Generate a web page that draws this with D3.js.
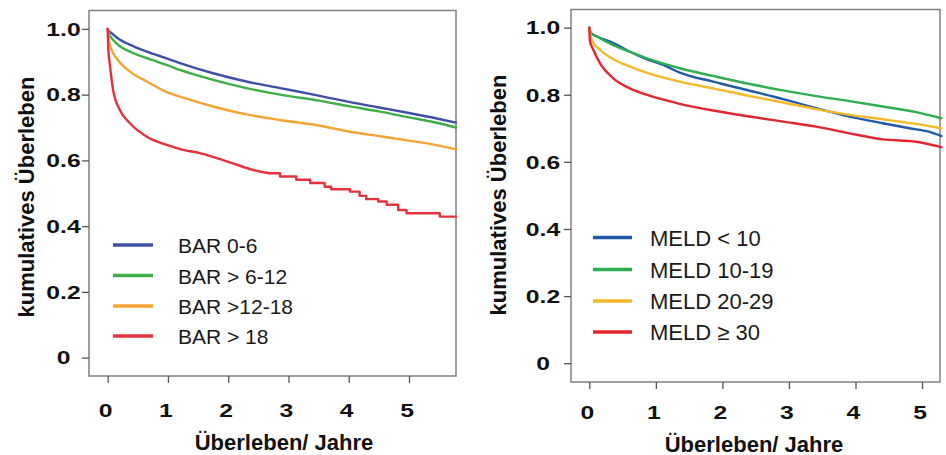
<!DOCTYPE html>
<html><head><meta charset="utf-8">
<script src="https://cdn.jsdelivr.net/npm/d3@7"></script>
<style>
html,body{margin:0;padding:0;background:#fff;}
svg{display:block;font-family:"Liberation Sans",Arial,sans-serif;}
</style></head>
<body>
<svg id="chart" width="946" height="455"></svg>
<script>
// ---------- data ----------
const xTicks = [0, 1, 2, 3, 4, 5];
const yTicks = [0, 0.2, 0.4, 0.6, 0.8, 1.0];
const yTickLabels = ["0", "0.2", "0.4", "0.6", "0.8", "1.0"];
const xTitle = "Überleben/ Jahre";
const yTitle = "kumulatives Überleben";

// left panel: BAR score
const barNames = ["BAR 0-6", "BAR > 6-12", "BAR >12-18", "BAR > 18"];
const barColors = ["#3f4fa6", "#3fae48", "#f5a434", "#e5323c"];
const bar06T = [0, 0.02, 0.066, 0.15, 0.43, 0.65, 1, 1.2, 1.75, 2.3, 2.86, 3.5, 4, 4.5, 5, 5.5, 5.78];
const bar06V = [1, 0.993, 0.987, 0.974, 0.947, 0.931, 0.909, 0.896, 0.865, 0.84, 0.82, 0.797, 0.778, 0.761, 0.744, 0.726, 0.715];
const bar612T = [0, 0.02, 0.066, 0.15, 0.43, 0.65, 1, 1.2, 1.75, 2.3, 2.86, 3.5, 4, 4.5, 5, 5.5, 5.78];
const bar612V = [1, 0.985, 0.972, 0.955, 0.926, 0.911, 0.889, 0.875, 0.845, 0.82, 0.80, 0.782, 0.765, 0.749, 0.731, 0.713, 0.70];
const bar1218T = [0, 0.02, 0.066, 0.15, 0.37, 0.65, 1, 1.2, 1.75, 2.3, 2.86, 3.5, 4, 4.5, 5, 5.5, 5.78];
const bar1218V = [1, 0.965, 0.936, 0.91, 0.87, 0.84, 0.806, 0.794, 0.764, 0.74, 0.723, 0.706, 0.688, 0.674, 0.66, 0.645, 0.634];
const bar18T = [0, 0.01, 0.04, 0.09, 0.2, 0.37, 0.65, 0.98, 1.25, 1.53, 1.81, 2.08, 2.41, 2.69, 2.86, 2.86, 3.13, 3.13, 3.36, 3.36, 3.6, 3.6, 3.71, 3.71, 4.02, 4.02, 4.18, 4.18, 4.29, 4.29, 4.49, 4.49, 4.63, 4.63, 4.82, 4.82, 4.96, 4.96, 5.51, 5.51, 5.78];
const bar18V = [1, 0.94, 0.885, 0.814, 0.754, 0.713, 0.672, 0.647, 0.632, 0.622, 0.607, 0.591, 0.571, 0.561, 0.561, 0.551, 0.551, 0.541, 0.541, 0.531, 0.531, 0.52, 0.52, 0.512, 0.512, 0.505, 0.505, 0.492, 0.492, 0.482, 0.482, 0.475, 0.475, 0.465, 0.465, 0.449, 0.449, 0.439, 0.439, 0.429, 0.429];

// right panel: MELD score
const meldNames = ["MELD < 10", "MELD 10-19", "MELD 20-29", "MELD \u2265 30"];
const meldColors = ["#1f5ba8", "#2eae4e", "#f6b826", "#e3262e"];
const meld10T = [0, 0.02, 0.1, 0.36, 0.61, 0.86, 1.11, 1.36, 1.86, 2.41, 2.91, 3.41, 3.91, 4.41, 4.81, 5.1, 5.29];
const meld10V = [1, 0.985, 0.975, 0.954, 0.928, 0.906, 0.889, 0.866, 0.839, 0.812, 0.787, 0.760, 0.735, 0.715, 0.70, 0.69, 0.677];
const meld1019T = [0, 0.02, 0.1, 0.36, 0.61, 0.86, 1.36, 1.86, 2.41, 2.91, 3.41, 3.91, 4.41, 4.91, 5.29];
const meld1019V = [1, 0.985, 0.975, 0.948, 0.928, 0.909, 0.879, 0.856, 0.832, 0.813, 0.796, 0.781, 0.765, 0.748, 0.730];
const meld2029T = [0, 0.02, 0.035, 0.16, 0.36, 0.61, 0.86, 1.36, 1.86, 2.41, 2.91, 3.41, 3.91, 4.41, 4.91, 5.29];
const meld2029V = [1, 0.975, 0.963, 0.934, 0.906, 0.884, 0.866, 0.839, 0.819, 0.796, 0.777, 0.757, 0.74, 0.727, 0.713, 0.70];
const meld30T = [0, 0.01, 0.06, 0.16, 0.36, 0.61, 0.86, 1.36, 1.86, 2.41, 2.91, 3.41, 3.91, 4.41, 4.91, 5.29];
const meld30V = [1, 0.96, 0.934, 0.894, 0.849, 0.819, 0.80, 0.773, 0.753, 0.735, 0.720, 0.705, 0.685, 0.667, 0.660, 0.644];

// ---------- layout ----------
// each series: [times, values, index up to which the curve is drawn smooth]
const panels = [
  {
    box: {l: 89, r: 456, t: 10.5, b: 376},
    xDom: [-0.31, 5.78], yDom: [-0.056, 1.056],
    names: barNames, colors: barColors,
    series: [[bar06T, bar06V], [bar612T, bar612V], [bar1218T, bar1218V], [bar18T, bar18V, 13]],
    tickLabelX: 63.5, yTitleX: 33.5, yTitleY: 197, xTitleX: 284, xTitleY: 449.5, xTickY: 417,
    leg: {x1: 113, x2: 153, ys: [245, 275.5, 306, 336], tx: 178, dy: 8, fs: 21}
  },
  {
    box: {l: 571, r: 940, t: 9.5, b: 382},
    xDom: [-0.275, 5.27], yDom: [-0.056, 1.054],
    names: meldNames, colors: meldColors,
    series: [[meld10T, meld10V], [meld1019T, meld1019V], [meld2029T, meld2029V], [meld30T, meld30V]],
    tickLabelX: 543, yTitleX: 506, yTitleY: 195, xTitleX: 754, xTitleY: 451.5, xTickY: 418.5,
    leg: {x1: 593, x2: 632, ys: [237.5, 269.5, 301, 332], tx: 650, dy: 8, fs: 22}
  }
];

const svg = d3.select("#chart");
const tickFont = 19, tickStretch = 1.3;

panels.forEach(p => {
  const b = p.box;
  const x = d3.scaleLinear().domain(p.xDom).range([b.l, b.r]);
  const y = d3.scaleLinear().domain(p.yDom).range([b.b, b.t]);
  const g = svg.append("g");

  // frame
  g.append("rect").attr("x", b.l).attr("y", b.t).attr("width", b.r - b.l).attr("height", b.b - b.t)
    .attr("fill", "none").attr("stroke", "#808080").attr("stroke-width", 1.5);

  // y axis ticks
  const yAx = g.append("g").attr("transform", `translate(${b.l},0)`)
    .call(d3.axisLeft(y).tickValues(yTicks).tickSize(7).tickFormat(""));
  yAx.select(".domain").remove();
  yAx.selectAll("line").attr("stroke", "#555").attr("stroke-width", 1.3);
  g.selectAll(".ytl").data(yTicks).join("text")
    .attr("transform", d => `translate(${p.tickLabelX},${y(d)}) scale(${tickStretch},1)`)
    .attr("dy", "0.36em")
    .attr("text-anchor", "middle").attr("font-weight", "bold").attr("font-size", tickFont).attr("fill", "#111")
    .text((d, i) => yTickLabels[i]);

  // x axis ticks
  const xAx = g.append("g").attr("transform", `translate(0,${b.b})`)
    .call(d3.axisBottom(x).tickValues(xTicks).tickSize(7).tickFormat(""));
  xAx.select(".domain").remove();
  xAx.selectAll("line").attr("stroke", "#555").attr("stroke-width", 1.3);
  g.selectAll(".xtl").data(xTicks).join("text")
    .attr("transform", d => `translate(${x(d) - 2},${p.xTickY}) scale(${tickStretch},1)`)
    .attr("text-anchor", "middle").attr("font-weight", "bold").attr("font-size", tickFont).attr("fill", "#111")
    .text(d => d);

  // titles
  g.append("text").attr("x", p.xTitleX).attr("y", p.xTitleY)
    .attr("text-anchor", "middle").attr("font-weight", "bold").attr("font-size", 22).attr("fill", "#111")
    .text(xTitle);
  g.append("text").attr("transform", `translate(${p.yTitleX},${p.yTitleY}) rotate(-90)`)
    .attr("text-anchor", "middle").attr("font-weight", "bold").attr("font-size", 22).attr("fill", "#111")
    .text(yTitle);

  // curves
  const smooth = d3.line().x(d => x(d[0])).y(d => y(d[1])).curve(d3.curveMonotoneX);
  const straight = d3.line().x(d => x(d[0])).y(d => y(d[1])).curve(d3.curveLinear);
  p.series.forEach((s, i) => {
    const pts = s[0].map((t, k) => [t, s[1][k]]);
    const cut = s[2] === undefined ? pts.length - 1 : s[2];
    const parts = [[smooth, pts.slice(0, cut + 1)]];
    if (cut < pts.length - 1) parts.push([straight, pts.slice(cut)]);
    parts.forEach(([gen, seg]) => {
      g.append("path").datum(seg).attr("d", gen)
        .attr("fill", "none").attr("stroke", p.colors[i]).attr("stroke-width", 2.4)
        .attr("stroke-linejoin", "round").attr("stroke-linecap", "round");
    });
  });

  // legend
  const L = p.leg;
  p.names.forEach((n, i) => {
    g.append("line").attr("x1", L.x1).attr("x2", L.x2).attr("y1", L.ys[i]).attr("y2", L.ys[i])
      .attr("stroke", p.colors[i]).attr("stroke-width", 3.5);
    g.append("text").attr("x", L.tx).attr("y", L.ys[i] + L.dy)
      .attr("font-size", L.fs).attr("fill", "#1a1a1a").text(n);
  });
});
</script>
</body></html>
